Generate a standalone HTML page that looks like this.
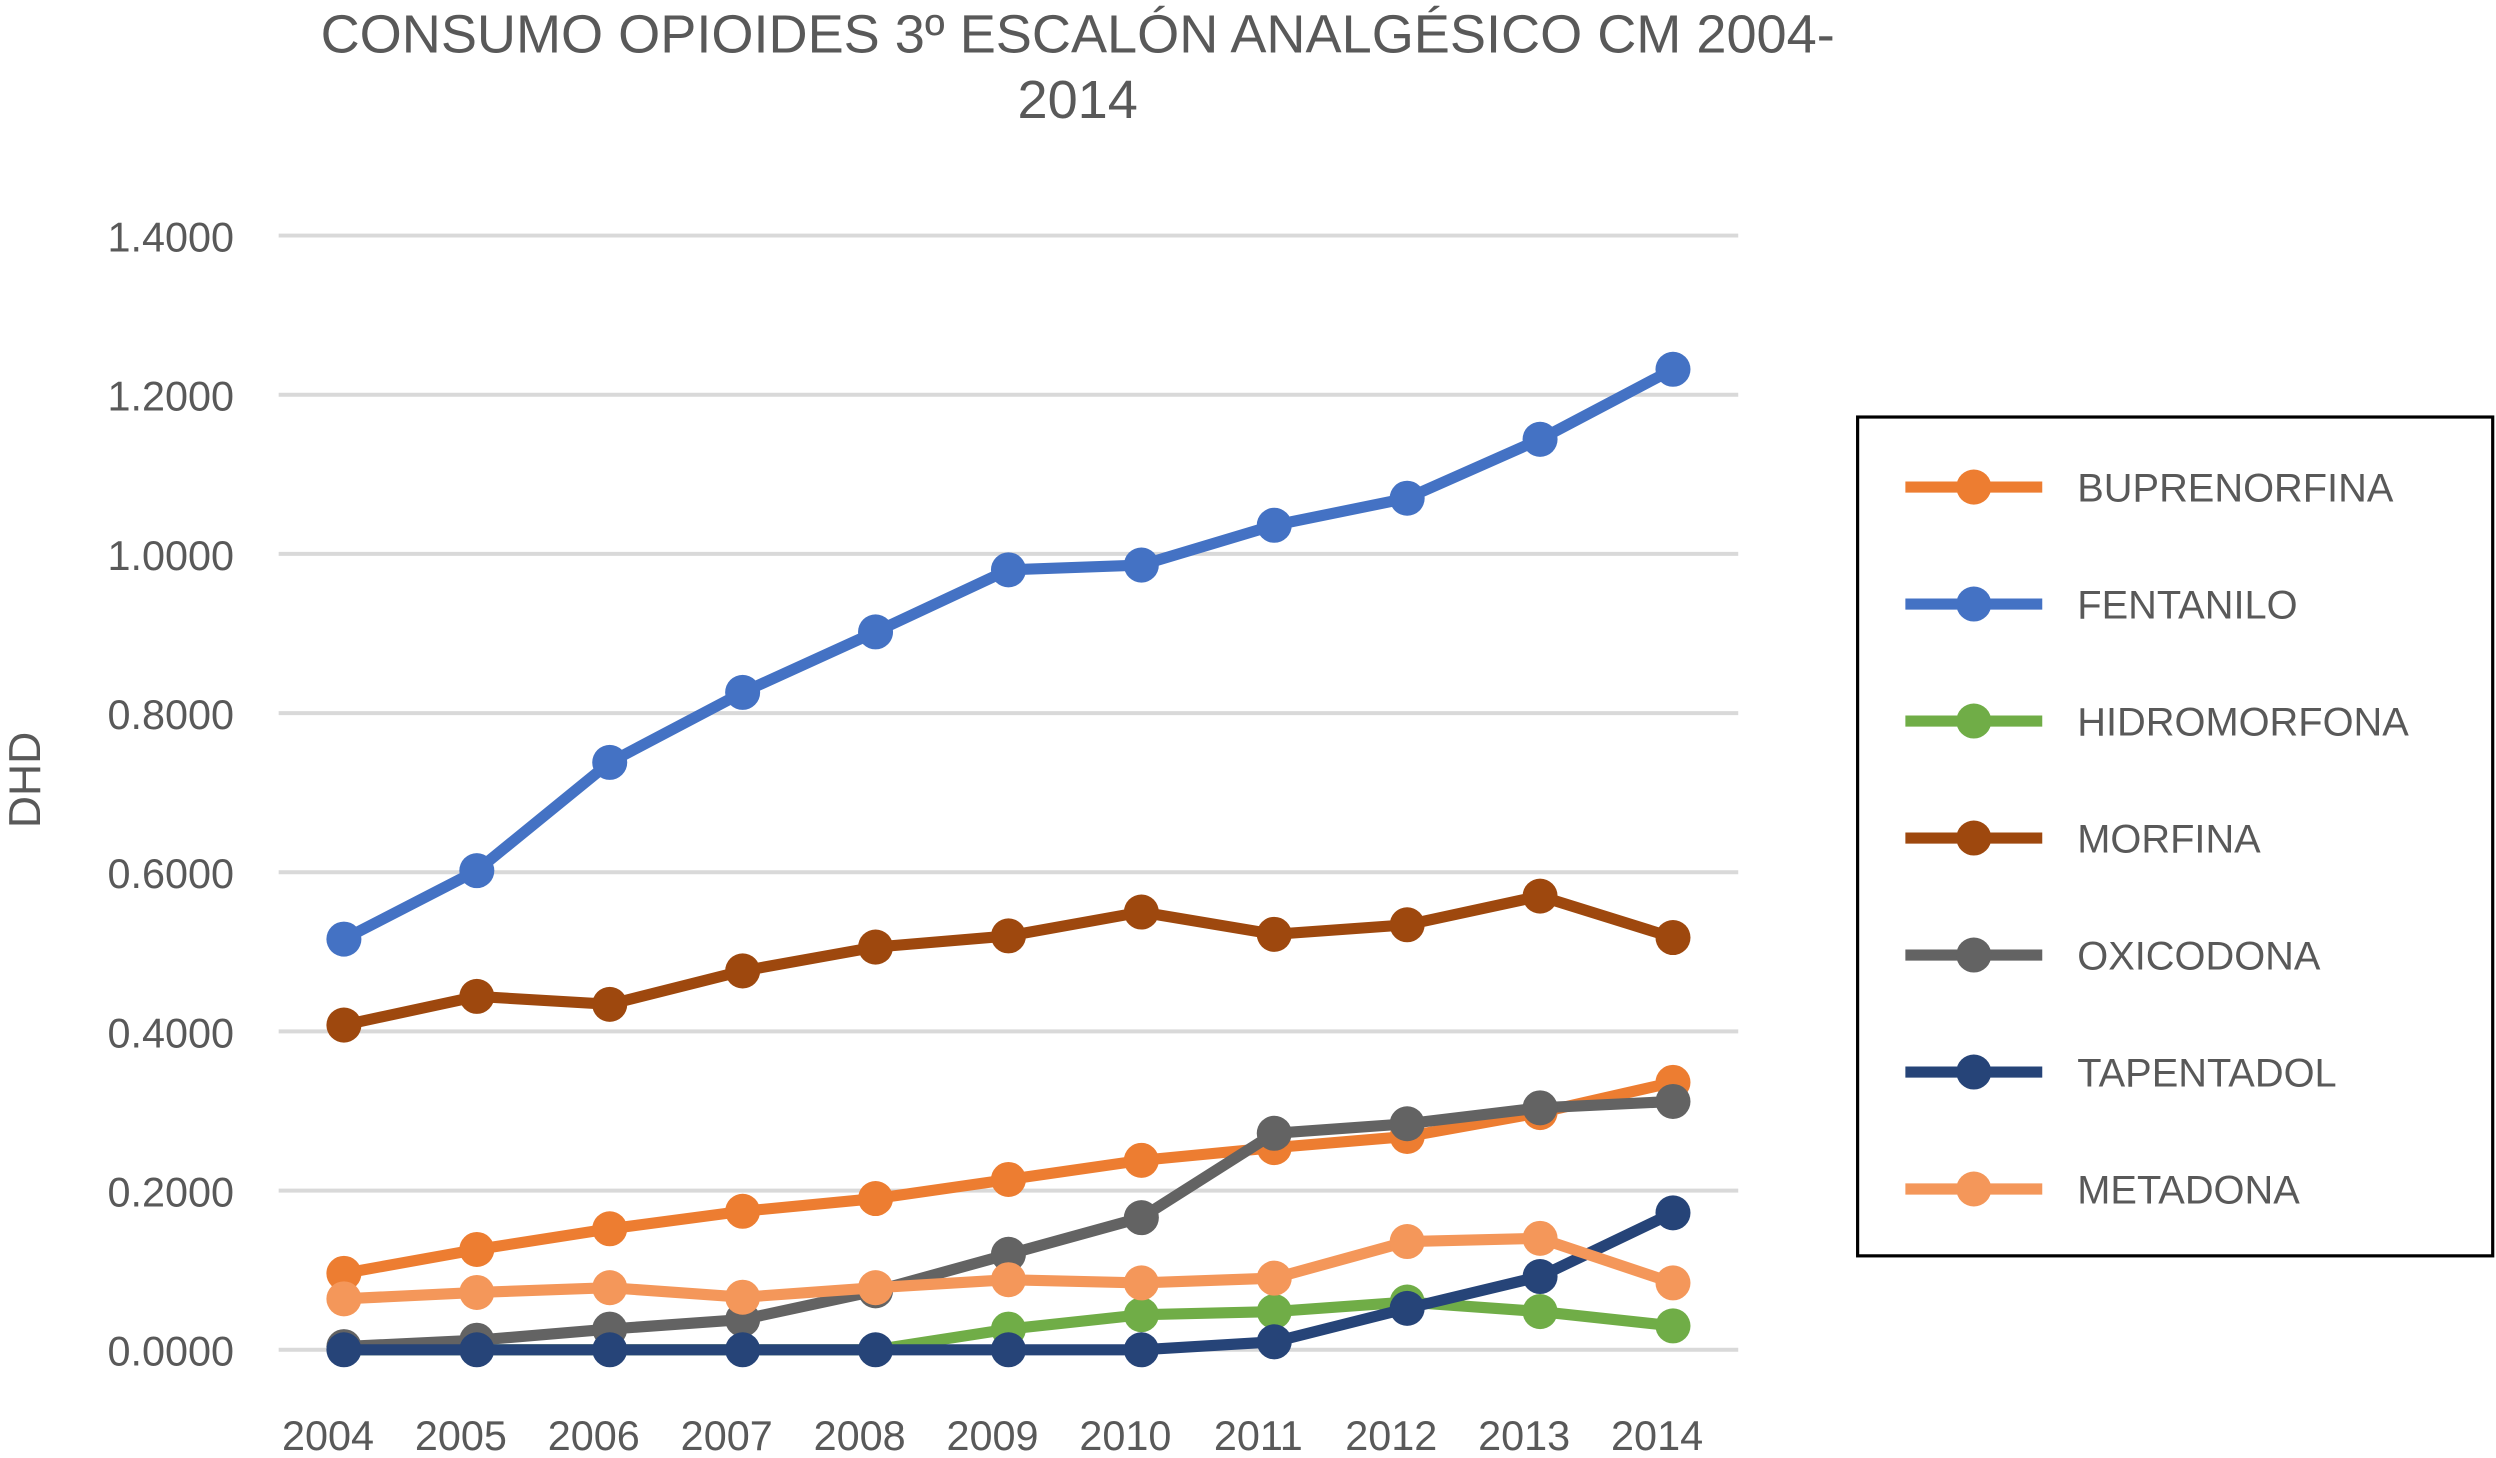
<!DOCTYPE html>
<html><head><meta charset="utf-8">
<style>html,body{margin:0;padding:0;background:#fff;}svg{display:block;}
text{font-family:"Liberation Sans",sans-serif;}</style></head>
<body>
<svg id="chart" width="2496" height="1458" viewBox="0 0 1568 916" xmlns="http://www.w3.org/2000/svg">
<g>
<text x="677" y="33" text-anchor="middle" font-size="34" fill="#595959">CONSUMO OPIOIDES 3º ESCALÓN ANALGÉSICO CM 2004-</text>
<text x="677" y="74" text-anchor="middle" font-size="34" fill="#595959">2014</text>
</g>
<text transform="translate(25,490) rotate(-90)" text-anchor="middle" font-size="28" fill="#595959">DHD</text>
<g id="grid"></g><g id="yticks"></g><g id="xticks"></g><g id="series"></g>
<rect x="1167" y="262" width="399" height="527" fill="#fff" stroke="#000" stroke-width="2"/>
<g id="legend"></g>
</svg>
<script>
const years = ["2004","2005","2006","2007","2008","2009","2010","2011","2012","2013","2014"];
const yTicks = [0,0.2,0.4,0.6,0.8,1.0,1.2,1.4];
const seriesNames = ["BUPRENORFINA","FENTANILO","HIDROMORFONA","MORFINA","OXICODONA","TAPENTADOL","METADONA"];
const buprenorfina = [0.096,0.126,0.152,0.174,0.190,0.214,0.238,0.254,0.268,0.298,0.336];
const fentanilo = [0.516,0.602,0.738,0.826,0.902,0.980,0.986,1.036,1.070,1.144,1.232];
const hidromorfona = [0,0,0,0,0,0.026,0.044,0.048,0.060,0.048,0.030];
const morfina = [0.408,0.444,0.434,0.476,0.506,0.520,0.550,0.522,0.534,0.570,0.518];
const oxicodona = [0.004,0.012,0.026,0.038,0.074,0.120,0.166,0.272,0.284,0.304,0.312];
const tapentadol = [0,0,0,0,0,0,0,0.010,0.052,0.092,0.172];
const metadona = [0.064,0.072,0.078,0.066,0.078,0.088,0.084,0.090,0.136,0.140,0.084];
const colors = ["#ED7D31","#4472C4","#70AD47","#9E480E","#636363","#264478","#F4975A"];
const allSeries = [buprenorfina,fentanilo,hidromorfona,morfina,oxicodona,tapentadol,metadona];
const NS="http://www.w3.org/2000/svg";
const xS = i => 216 + i*(1051-216)/(years.length-1);
const yS = v => 848 - v*500;
function mk(t,a,p){const e=document.createElementNS(NS,t);for(const k in a)e.setAttribute(k,a[k]);p.appendChild(e);return e;}
const grid=document.getElementById('grid'), yt=document.getElementById('yticks'), xt=document.getElementById('xticks');
yTicks.forEach(v=>{
  const l=mk('line',{x1:175,x2:1092,y1:yS(v),y2:yS(v),stroke:'#D9D9D9','stroke-width':2.5},grid);
  
  
  const t=mk('text',{x:147,y:yS(v)+10,'text-anchor':'end','font-size':26,fill:'#595959'},yt);
  t.textContent=v.toFixed(4);
  
  
});
years.forEach((y,i)=>{
  const t=mk('text',{x:xS(i)-10,y:911,'text-anchor':'middle','font-size':26,fill:'#595959'},xt);
  t.textContent=y;
  
  
});
const sg=document.getElementById('series');
allSeries.forEach((s,k)=>{
  const g=mk('g',{},sg);
  
  
  const pl=mk('polyline',{points:s.map((v,i)=>xS(i)+','+yS(v)).join(' '),fill:'none',stroke:colors[k],'stroke-width':7,'stroke-linejoin':'round'},g);
  
  
  s.forEach((v,i)=>{
    if(k===2 && i<5) return;
    const c=mk('circle',{cx:xS(i),cy:yS(v),r:11,fill:colors[k]},g);
    
    
  });
});
const lg=document.getElementById('legend');
seriesNames.forEach((n,k)=>{
  const y=306+k*73.5;
  const g=mk('g',{},lg);
  
  
  mk('line',{x1:1197,x2:1283,y1:y,y2:y,stroke:colors[k],'stroke-width':7},g);
  mk('circle',{cx:1240,cy:y,r:11,fill:colors[k]},g);
  const t=mk('text',{x:1305,y:y+9,'font-size':25,fill:'#595959'},g);
  t.textContent=n;
});
</script>
</body></html>
